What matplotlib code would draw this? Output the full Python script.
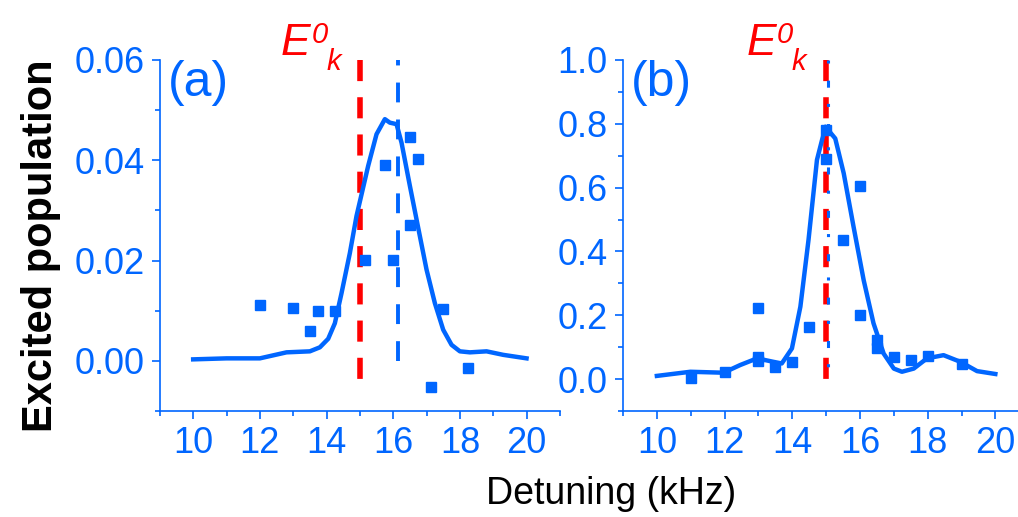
import matplotlib
matplotlib.use("Agg")
import matplotlib.pyplot as plt
from matplotlib.ticker import MultipleLocator, FormatStrFormatter

# detuning (kHz) and excited population, panel (a)
fit_a_x = [10.0, 11.0, 12.0, 12.8, 13.5, 13.8, 14.05, 14.25, 14.45, 14.7, 14.9,
           15.25, 15.5, 15.75, 15.9, 16.1, 16.25, 16.5, 16.7, 17.0, 17.25, 17.5,
           17.75, 18.0, 18.3, 18.8, 19.3, 20.0]
fit_a_y = [0.0003, 0.0005, 0.0005, 0.0017, 0.0019, 0.0027, 0.0044, 0.0075, 0.0135,
           0.0215, 0.0289, 0.0389, 0.0452, 0.0482, 0.0475, 0.0472, 0.0435, 0.0349,
           0.0282, 0.0182, 0.0115, 0.0062, 0.0032, 0.0019, 0.0017, 0.0019, 0.0012,
           0.0005]
data_a_x = [12.0, 13.0, 13.5, 13.75, 14.25, 15.15, 15.75, 16.0, 16.5, 16.75, 16.5,
            17.5, 17.13, 18.25]
data_a_y = [0.0112, 0.0105, 0.0059, 0.0099, 0.0099, 0.0201, 0.039, 0.0201, 0.0447,
            0.0402, 0.0271, 0.0103, -0.0053, -0.0015]

# panel (b)
fit_b_x = [10.0, 10.99, 11.97, 12.46, 12.96, 13.45, 13.69, 13.99, 14.24, 14.48,
           14.73, 14.98, 15.27, 15.52, 15.81, 16.11, 16.4, 16.7, 17.0, 17.24,
           17.59, 17.98, 18.47, 18.97, 19.46, 20.0]
fit_b_y = [0.010, 0.023, 0.020, 0.044, 0.065, 0.054, 0.049, 0.096, 0.227, 0.436,
           0.687, 0.791, 0.754, 0.645, 0.478, 0.310, 0.175, 0.080, 0.033, 0.023,
           0.033, 0.065, 0.075, 0.054, 0.025, 0.016]
data_b_x = [11.0, 12.0, 13.0, 13.0, 13.0, 13.5, 14.0, 14.5, 15.0, 15.0, 15.5, 16.0,
            16.0, 16.5, 16.5, 17.0, 17.5, 18.0, 19.0]
data_b_y = [0.005, 0.021, 0.224, 0.070, 0.057, 0.039, 0.054, 0.162, 0.78, 0.69,
            0.436, 0.605, 0.201, 0.122, 0.096, 0.070, 0.060, 0.072, 0.047]

# resonance positions
e0k = 15.0
peak_a = 16.14
peak_b = 15.05

blue = "#0066ff"
red = "#ff0000"

plt.rcParams["font.family"] = ["Liberation Sans", "DejaVu Sans"]

fig = plt.figure(figsize=(10.18, 5.17), dpi=100)
ax_a = fig.add_axes([0.157, 0.205, 0.393, 0.679])
ax_b = fig.add_axes([0.612, 0.205, 0.399, 0.679])


def style_axes(ax, ylim, ymajor, yfmt):
    ax.set_xlim(9, 21)
    ax.set_ylim(*ylim)
    for s in ("top", "right"):
        ax.spines[s].set_visible(False)
    for s in ("left", "bottom"):
        ax.spines[s].set_color(blue)
        ax.spines[s].set_linewidth(1.2)
    ax.xaxis.set_major_locator(MultipleLocator(2))
    ax.xaxis.set_minor_locator(MultipleLocator(1))
    ax.yaxis.set_major_locator(MultipleLocator(ymajor))
    ax.yaxis.set_minor_locator(MultipleLocator(ymajor / 2))
    ax.yaxis.set_major_formatter(FormatStrFormatter(yfmt))
    ax.tick_params(which="both", direction="out", color=blue, width=1.2,
                   labelcolor=blue, labelsize=26)
    ax.tick_params(which="major", length=6, pad=5)
    ax.tick_params(which="minor", length=3.5)


style_axes(ax_a, (-0.01, 0.06), 0.02, "%.2f")
style_axes(ax_b, (-0.1, 1.0), 0.2, "%.1f")

# (a): measured points, fit, E0k and fitted peak
ax_a.plot(fit_a_x, fit_a_y, color=blue, lw=3.2, zorder=3)
ax_a.plot(data_a_x, data_a_y, ls="none", marker="s", ms=7, color=blue, zorder=4)
ax_a.plot([e0k, e0k], [0.06, -0.0042], color=red, lw=4, dashes=(3.8, 2.9),
          zorder=2, clip_on=False)
ax_a.plot([peak_a, peak_a], [0.0, 0.06], color=blue, lw=2.8,
          dashes=(5.1, 4.4), zorder=2, clip_on=False)

# (b)
ax_b.plot(fit_b_x, fit_b_y, color=blue, lw=3.2, zorder=3)
ax_b.plot(data_b_x, data_b_y, ls="none", marker="s", ms=7, color=blue, zorder=4)
ax_b.plot([e0k, e0k], [1.0, 0.0], color=red, lw=4, dashes=(3.8, 2.9),
          zorder=2, clip_on=False)
ax_b.plot([peak_b, peak_b], [1.0, 0.0], color=blue, lw=2.2,
          dashes=(1, 5.6, 2.3, 5.3), zorder=2.5, clip_on=False)

for ax, tag in ((ax_a, "(a)"), (ax_b, "(b)")):
    ax.text(0.02, 1.0, tag, transform=ax.transAxes, color=blue, fontsize=36,
            ha="left", va="top")

# E0k labels above the red markers
for x0 in (0.276, 0.733):
    fig.text(x0, 0.894, "E", color=red, fontsize=32, fontstyle="italic",
             ha="left", va="baseline")
    fig.text(x0 + 0.030, 0.917, "0", color=red, fontsize=21, fontstyle="italic",
             ha="left", va="baseline")
    fig.text(x0 + 0.045, 0.865, "k", color=red, fontsize=21, fontstyle="italic",
             ha="left", va="baseline")

fig.text(0.04, 0.525, "Excited population", rotation=90, fontsize=30,
         fontweight="bold", ha="center", va="center")
fig.text(0.6, 0.045, "Detuning (kHz)", fontsize=27, ha="center", va="center")

fig.savefig("out.png", dpi=100)
